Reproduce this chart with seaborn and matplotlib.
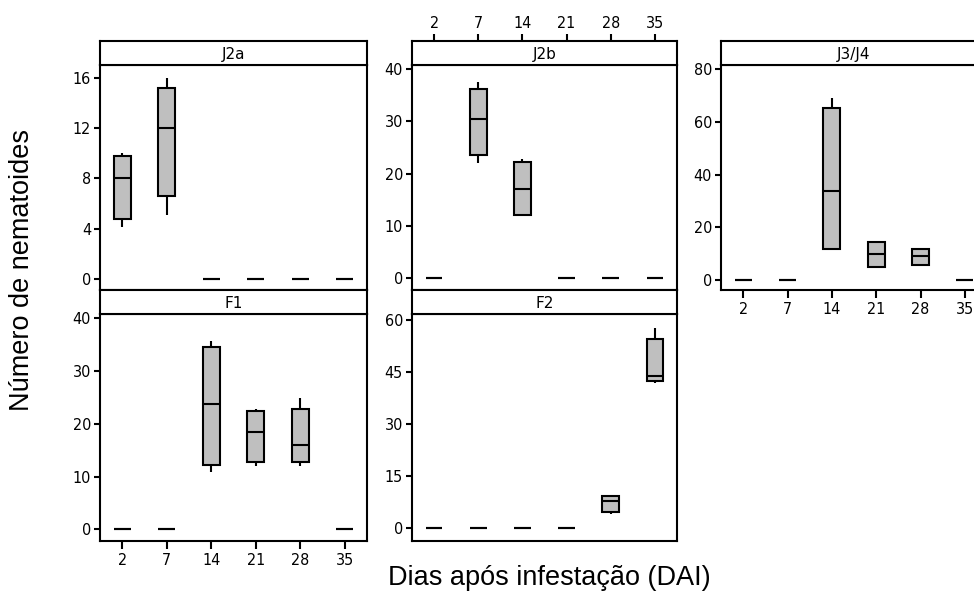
import matplotlib
matplotlib.use("Agg")
import matplotlib.pyplot as plt
import seaborn as sns
import pandas as pd

# ---------------- data (five values per group: min, Q1, median, Q3, max) ----------------
days = [2, 7, 14, 21, 28, 35]
panels = ["J2a", "J2b", "J3/J4", "F1", "F2"]

j2a_values = [
    [4.1, 4.75, 8.0, 9.75, 10.0],
    [5.1, 6.6, 12.0, 15.2, 16.0],
    [0, 0, 0, 0, 0],
    [0, 0, 0, 0, 0],
    [0, 0, 0, 0, 0],
    [0, 0, 0, 0, 0],
]
j2b_values = [
    [0, 0, 0, 0, 0],
    [22.0, 23.6, 30.4, 36.3, 37.6],
    [11.9, 12.0, 17.0, 22.3, 22.9],
    [0, 0, 0, 0, 0],
    [0, 0, 0, 0, 0],
    [0, 0, 0, 0, 0],
]
j3j4_values = [
    [0, 0, 0, 0, 0],
    [0, 0, 0, 0, 0],
    [11.4, 11.8, 33.8, 65.4, 69.2],
    [5.0, 5.1, 9.9, 14.5, 14.9],
    [5.3, 5.7, 9.2, 11.8, 11.9],
    [0, 0, 0, 0, 0],
]
f1_values = [
    [0, 0, 0, 0, 0],
    [0, 0, 0, 0, 0],
    [10.9, 12.2, 23.8, 34.6, 35.6],
    [11.9, 12.8, 18.5, 22.5, 22.8],
    [11.9, 12.8, 15.9, 22.8, 24.8],
    [0, 0, 0, 0, 0],
]
f2_values = [
    [0, 0, 0, 0, 0],
    [0, 0, 0, 0, 0],
    [0, 0, 0, 0, 0],
    [0, 0, 0, 0, 0],
    [4.2, 4.8, 7.9, 9.3, 9.4],
    [41.9, 42.4, 43.9, 54.4, 57.8],
]

y_ticks = {
    "J2a": [0, 4, 8, 12, 16],
    "J2b": [0, 10, 20, 30, 40],
    "J3/J4": [0, 20, 40, 60, 80],
    "F1": [0, 10, 20, 30, 40],
    "F2": [0, 15, 30, 45, 60],
}

x_label = "Dias após infestação (DAI)"
y_label = "Número de nematoides"

# ---------------- long table ----------------
series = {"J2a": j2a_values, "J2b": j2b_values, "J3/J4": j3j4_values,
          "F1": f1_values, "F2": f2_values}
rows = []
for p in panels:
    for d, vals in zip(days, series[p]):
        for v in vals:
            rows.append({"panel": p, "day": d, "value": v})
df = pd.DataFrame(rows)

# ---------------- style ----------------
sns.set_theme(style="ticks")
plt.rcParams["font.family"] = ["DejaVu Sans"]
plt.rcParams["font.stretch"] = "condensed"

W, H = 974, 592
fig = plt.figure(figsize=(W / 100, H / 100), dpi=100)
fig.patch.set_facecolor("white")


def rect(x0, x1, y0, y1):
    return [x0 / W, 1 - y1 / H, (x1 - x0) / W, (y1 - y0) / H]


cols = {0: (100, 367), 1: (412, 677), 2: (721, 987)}
rows_px = {0: ((41, 65), (65, 290)), 1: ((290, 314), (314, 541))}

layout = {
    "J2a": dict(col=0, row=0, ylim=(-0.876, 17.03), bottom=False, top=False),
    "J2b": dict(col=1, row=0, ylim=(-2.30, 40.82), bottom=False, top=True),
    "J3/J4": dict(col=2, row=0, ylim=(-3.8, 81.6), bottom=True, top=False),
    "F1": dict(col=0, row=1, ylim=(-2.22, 40.8), bottom=True, top=False),
    "F2": dict(col=1, row=1, ylim=(-3.66, 61.7), bottom=False, top=False),
}

LW = 1.5
TICK_FS = 11.5

for p in panels:
    L = layout[p]
    x0, x1 = cols[L["col"]]
    (sy0, sy1), (py0, py1) = rows_px[L["row"]]

    ax = fig.add_axes(rect(x0, x1, py0, py1))
    sub = df[df["panel"] == p]
    sns.boxplot(data=sub, x="day", y="value", order=days, color="#bfbfbf",
                linecolor="black", linewidth=LW, width=0.38, saturation=1,
                showcaps=False, whis=10, fliersize=0, ax=ax)
    ax.set_xlim(-0.5, 5.5)
    ax.set_ylim(*L["ylim"])
    ax.set_yticks(y_ticks[p])
    ax.set_yticklabels([str(t) for t in y_ticks[p]])
    ax.set_xlabel("")
    ax.set_ylabel("")
    for s in ax.spines.values():
        s.set_visible(True)
        s.set_color("black")
        s.set_linewidth(LW)
    ax.tick_params(axis="y", left=True, direction="out", length=4.5, width=LW,
                   color="black", labelsize=TICK_FS, pad=2, labelcolor="black")
    if L["bottom"]:
        ax.tick_params(axis="x", bottom=True, labelbottom=True, direction="out",
                       length=5.5, width=LW, color="black", labelsize=TICK_FS,
                       pad=3, labelcolor="black")
    else:
        ax.tick_params(axis="x", bottom=False, labelbottom=False)
    ax.grid(False)

    sax = fig.add_axes(rect(x0, x1, sy0, sy1))
    sax.set_xlim(-0.5, 5.5)
    sax.set_ylim(0, 1)
    sax.set_yticks([])
    for s in sax.spines.values():
        s.set_visible(True)
        s.set_color("black")
        s.set_linewidth(LW)
    sax.text(0.5, 0.45, p, transform=sax.transAxes, ha="center", va="center",
             fontsize=11, fontstretch="normal", color="black")
    if L["top"]:
        sax.set_xticks(range(len(days)))
        sax.set_xticklabels([str(d) for d in days])
        sax.tick_params(axis="x", top=True, labeltop=True, bottom=False,
                        labelbottom=False, direction="out", length=5,
                        width=LW, color="black", labelsize=TICK_FS, pad=2,
                        labelcolor="black")
    else:
        sax.set_xticks([])

fig.text(22 / W, 1 - 270 / H, y_label, rotation=90, ha="center", va="center",
         fontsize=19.5, family="Liberation Sans", fontstretch="normal",
         color="black")
fig.text(549 / W, 1 - 585 / H, x_label, ha="center", va="baseline",
         fontsize=19.5, family="Liberation Sans", fontstretch="normal",
         color="black")

fig.savefig("out.png", dpi=100)
